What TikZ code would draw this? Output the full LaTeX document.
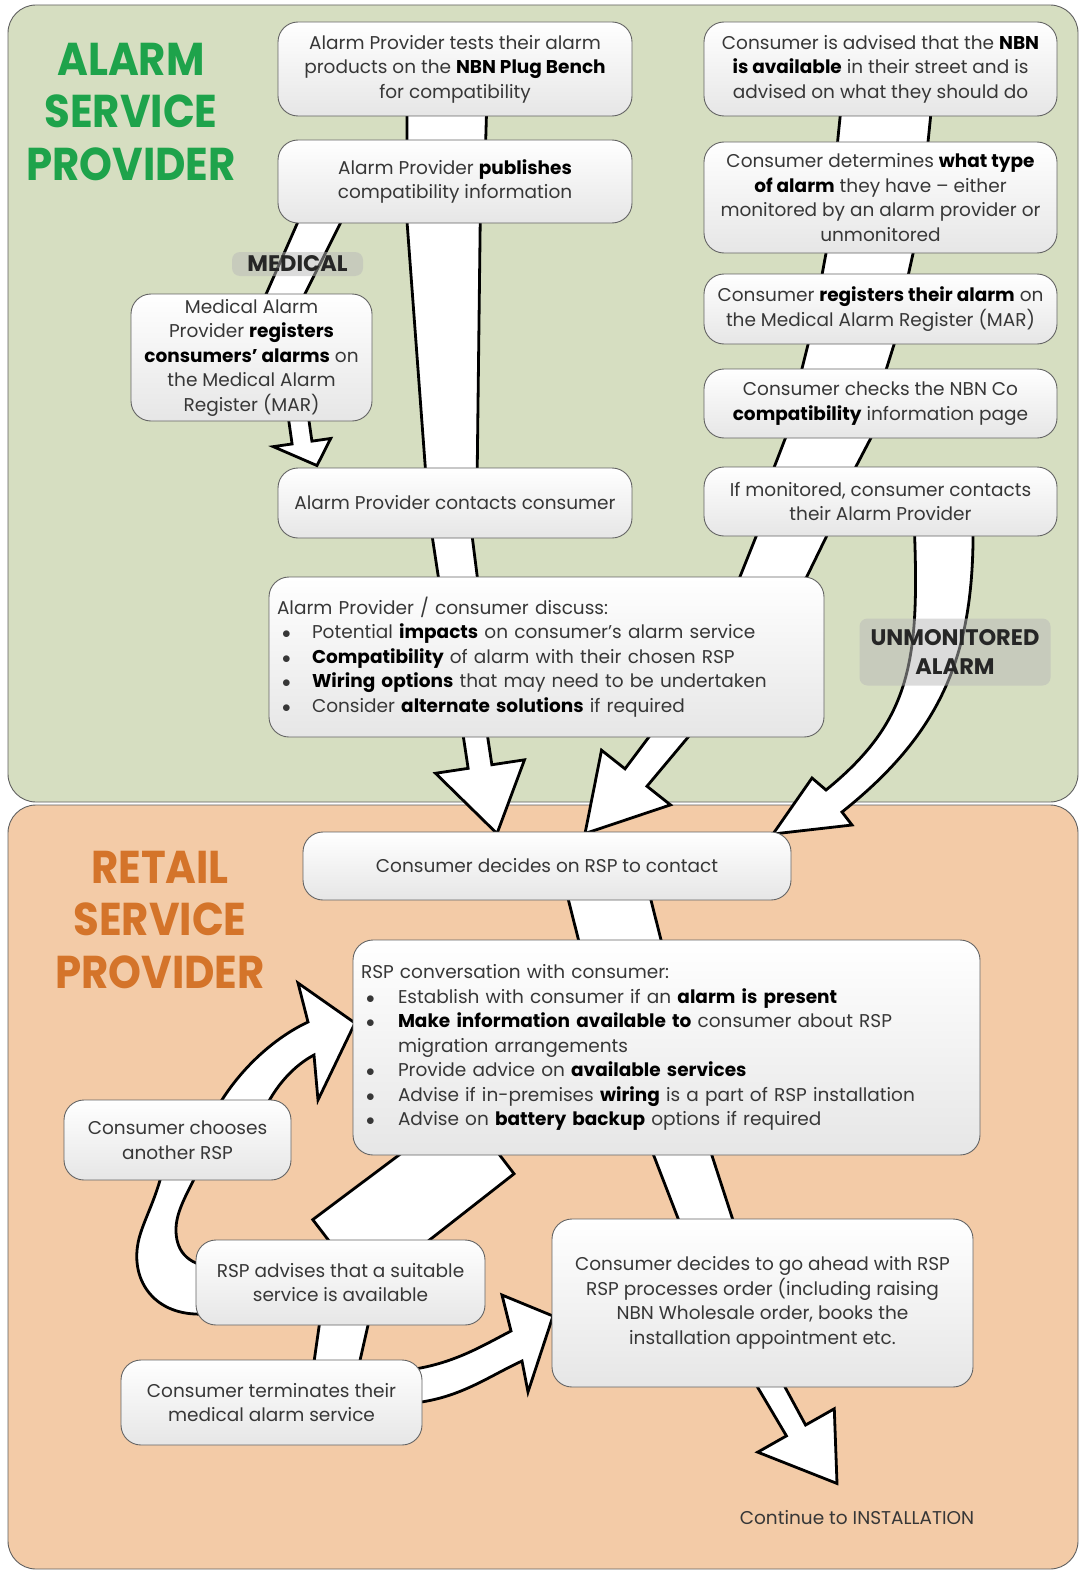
\documentclass[tikz,border=0pt]{standalone}
\usepackage{fontspec}
\setmainfont{Poppins}
\newfontfamily\titlefam[FakeStretch=0.91]{Poppins}
\usetikzlibrary{calc}
\pgfdeclarelayer{back}
\pgfdeclarelayer{bands}
\pgfsetlayers{back,bands,main}
\definecolor{greenbg}{RGB}{214,222,193}
\definecolor{orangebg}{RGB}{243,203,167}
\definecolor{titlegreen}{RGB}{30,163,75}
\definecolor{titleorange}{RGB}{212,116,42}
\definecolor{txt}{RGB}{55,55,55}
\definecolor{boxline}{RGB}{100,100,100}
\definecolor{boxbottom}{RGB}{230,230,230}
\newcommand\boxfont{\fontsize{18.5}{24.5}\selectfont}
\newcommand\titlefont{\titlefam\fontsize{46}{52.5}\selectfont\bfseries}
\newcommand\tagfont{\fontsize{22.5}{29}\selectfont\bfseries}
\newcommand\bld[1]{{\bfseries\color{black}#1}}
\newcommand\bulA{\makebox[35pt][l]{\hspace{5pt}$\bullet$}}
\newcommand\bulB{\makebox[37pt][l]{\hspace{5pt}$\bullet$}}
\newcommand\bandtaper[4]{\draw[band] ($(#1)!#3!90:(#2)$) -- ($(#2)!#4!-90:(#1)$) -- ($(#2)!#4!90:(#1)$) -- ($(#1)!#3!-90:(#2)$) -- cycle;}
\newcommand\bandarrow[6]{\draw[band] ($(#1)!#4!90:(#2)$) -- ($(#2)!#5!-90:(#1)$) -- ($(#2)!#6!-90:(#1)$) -- (#3) -- ($(#2)!#6!90:(#1)$) -- ($(#2)!#5!90:(#1)$) -- ($(#1)!#4!-90:(#2)$) -- cycle;}
\tikzset{
 panel/.style={draw=gray!75!black, line width=0.9pt, rounded corners=28pt},
 box/.style={draw=boxline, line width=0.9pt, rounded corners=20pt, top color=white, bottom color=boxbottom, text=txt, align=center, font=\boxfont, inner sep=0pt},
 band/.style={fill=white, draw=black, line width=2.8pt, line join=miter},
 ttl/.style={font=\titlefont, align=center, inner sep=0pt},
 tagbox/.style={font=\tagfont, align=center, fill=gray!55, fill opacity=0.5, text opacity=1, text=black!85, rounded corners=8pt, inner sep=0pt}
}
\begin{document}
\begin{tikzpicture}[x=1pt,y=-1pt]
\useasboundingbox (0,0) rectangle (1081,1573);
\begin{pgfonlayer}{back}
\fill[white] (0,0) rectangle (1081,1573);
\draw[panel, fill=greenbg] (8,5) rectangle (1078,802);
\draw[panel, fill=orangebg] (8,805) rectangle (1078,1569);
\end{pgfonlayer}

\node[ttl, text=titlegreen] (t1) at (131,112) {ALARM\\SERVICE\\PROVIDER};
\node[ttl, text=titleorange] (t2) at (160,920) {RETAIL\\SERVICE\\PROVIDER};

% left column
\node[box, minimum width=354pt, minimum height=94pt] (b1) at (455,69) {Alarm Provider tests their alarm\\products on the \bld{NBN Plug Bench}\\for compatibility};
\node[box, minimum width=354pt, minimum height=83pt] (b2) at (455,181.5) {Alarm Provider \bld{publishes}\\compatibility information};
\node[box, minimum width=241pt, minimum height=127pt] (b3) at (251.5,357.5) {Medical Alarm\\Provider \bld{registers}\\\bld{consumers' alarms} on\\the Medical Alarm\\Register (MAR)};
\node[box, minimum width=354pt, minimum height=70pt] (b4) at (455,503) {Alarm Provider contacts consumer};
\node[box, align=left, text width=539pt, inner xsep=8pt, minimum height=160pt] (b5) at (546.5,657) {Alarm Provider / consumer discuss:\\
\bulA Potential \bld{impacts} on consumer's alarm service\\
\bulA \bld{Compatibility} of alarm with their chosen RSP\\
\bulA \bld{Wiring options} that may need to be undertaken\\
\bulA Consider \bld{alternate solutions} if required};

% right column
\node[box, minimum width=353pt, minimum height=94pt] (b6) at (880.5,69) {Consumer is advised that the \bld{NBN}\\\bld{is available} in their street and is\\advised on what they should do};
\node[box, minimum width=353pt, minimum height=111pt] (b7) at (880.5,197.5) {Consumer determines \bld{what type}\\\bld{of alarm} they have -- either\\monitored by an alarm provider or\\unmonitored};
\node[box, minimum width=353pt, minimum height=70pt] (b8) at (880.5,309) {Consumer \bld{registers their alarm} on\\the Medical Alarm Register (MAR)};
\node[box, minimum width=353pt, minimum height=69pt] (b9) at (880.5,403.5) {Consumer checks the NBN Co\\\bld{compatibility} information page};
\node[box, minimum width=353pt, minimum height=69pt] (b10) at (880.5,501.5) {If monitored, consumer contacts\\their Alarm Provider};

% retail section
\node[box, minimum width=488pt, minimum height=68pt] (b11) at (547,866) {Consumer decides on RSP to contact};
\node[box, align=left, text width=611pt, inner xsep=8pt, minimum height=215pt] (b12) at (666.5,1047.5) {RSP conversation with consumer:\\
\bulB Establish with consumer if an \bld{alarm is present}\\
\bulB \bld{Make information available to} consumer about RSP\\
\hspace*{37pt}migration arrangements\\
\bulB Provide advice on \bld{available services}\\
\bulB Advise if in-premises \bld{wiring} is a part of RSP installation\\
\bulB Advise on \bld{battery backup} options if required};
\node[box, minimum width=227pt, minimum height=80pt] (b13) at (177.5,1140) {Consumer chooses\\another RSP};
\node[box, minimum width=289pt, minimum height=85pt] (b14) at (340.5,1282.5) {RSP advises that a suitable\\service is available};
\node[box, minimum width=421pt, minimum height=168pt] (b15) at (762.5,1303) {Consumer decides to go ahead with RSP\\RSP processes order (including raising\\NBN Wholesale order, books the\\installation appointment etc.};
\node[box, minimum width=301pt, minimum height=85pt] (b16) at (271.5,1402.5) {Consumer terminates their\\medical alarm service};
\node[font=\boxfont, text=txt, inner sep=0pt] (cont) at (857,1518) {Continue to INSTALLATION};

% band end points (relative to the boxes they join)
\coordinate (s1a) at ($(b1.south)+(-8,-21)$);
\coordinate (s1b) at ($(b2.north)+(-9,25)$);
\coordinate (s2a) at ($(b2.south)+(-12,-23)$);
\coordinate (s2b) at ($(b4.north)+(-3,22)$);
\coordinate (s3a) at ($(b4.south)+(-5,-18)$);
\coordinate (s3b) at ($(b5.north)+(-85.5,23)$);
\coordinate (s4a) at ($(b5.south)+(-76.5,-37)$);
\coordinate (s4b) at ($(b11.north)+(-67,-65)$);
\coordinate (s4t) at ($(b11.north)+(-50,2)$);
\coordinate (r1a) at ($(b6.south)+(6.5,-16)$);
\coordinate (r1b) at ($(b7.north)+(0.5,18)$);
\coordinate (r2a) at ($(b7.south)+(-7.5,-18)$);
\coordinate (r2b) at ($(b8.north)+(-18.5,16)$);
\coordinate (r3a) at ($(b8.south)+(-24.5,-19)$);
\coordinate (r3b) at ($(b9.north)+(-42.5,21)$);
\coordinate (r4a) at ($(b9.south)+(-45.5,-18)$);
\coordinate (r4b) at ($(b10.north)+(-74.5,18)$);
\coordinate (r5a) at ($(b10.south)+(-80.5,-21)$);
\coordinate (r5b) at ($(b5.north)+(198.5,63)$);
\coordinate (r6a) at ($(b5.south)+(158.5,-47)$);
\coordinate (r6b) at ($(b11.north)+(89,-54)$);
\coordinate (r6t) at ($(b11.north)+(38,2)$);
\coordinate (m1a) at ($(b2.south)+(-128,-18)$);
\coordinate (m1b) at ($(b3.north)+(25.5,18)$);
\coordinate (m2a) at ($(b3.south)+(44.5,-21)$);
\coordinate (m2b) at ($(b4.north)+(-153,-25)$);
\coordinate (m2t) at ($(b4.north)+(-138,-2)$);
\coordinate (p1a) at ($(b11.south)+(59,-15)$);
\coordinate (p1b) at ($(b12.north)+(-40.5,25)$);
\coordinate (p2a) at ($(b12.south)+(9.5,-20)$);
\coordinate (p2b) at ($(b15.north)+(-49.5,21)$);
\coordinate (p3a) at ($(b15.south)+(-17.5,-47)$);
\coordinate (p3b) at ($(b15.south)+(33.5,43)$);
\coordinate (p3t) at ($(b15.south)+(74.5,96)$);
\coordinate (q1a) at ($(b12.south)+(-178,-15)$);
\coordinate (q1b) at ($(b14.north)+(-1,15)$);
\coordinate (q2a) at ($(b14.south)+(7.5,-25)$);
\coordinate (q2b) at ($(b16.north)+(61,25)$);

\begin{pgfonlayer}{bands}
\bandtaper{s1a}{s1b}{40pt}{39pt}
\bandtaper{s2a}{s2b}{37.5pt}{25pt}
\bandtaper{s3a}{s3b}{20pt}{19pt}
\bandarrow{s4a}{s4b}{s4t}{12pt}{12pt}{45pt}
\bandtaper{r1a}{r1b}{45pt}{45pt}
\bandtaper{r2a}{r2b}{43pt}{42pt}
\bandtaper{r3a}{r3b}{42pt}{40pt}
\bandtaper{r4a}{r4b}{40pt}{36pt}
\bandtaper{r5a}{r5b}{33pt}{28pt}
\bandarrow{r6a}{r6b}{r6t}{17pt}{14pt}{44pt}
\bandtaper{m1a}{m1b}{20pt}{17pt}
\bandarrow{m2a}{m2b}{m2t}{10pt}{10pt}{29pt}
% unmonitored alarm
\draw[band] (914,520) .. controls (920,660) and (912,720) .. (826,790) -- (812,778) -- (773,834) -- (852,825) -- (842,812) .. controls (945,730) and (975,650) .. (973,520) -- cycle;
\bandtaper{p1a}{p1b}{40pt}{40pt}
\bandtaper{p2a}{p2b}{28pt}{25pt}
\bandarrow{p3a}{p3b}{p3t}{13pt}{11pt}{44pt}
\bandtaper{q1a}{q1b}{42pt}{44pt}
\bandtaper{q2a}{q2b}{25pt}{21.5pt}
% terminate -> go ahead
\draw[band] (400,1371) .. controls (450,1366) and (480,1347) .. (511,1331) -- (502,1295) -- (553,1316) -- (528,1392) -- (522,1361) .. controls (485,1378) and (455,1402) .. (400,1404) -- cycle;
% advises -> chooses another
\draw[band] (222,1315) -- (195,1314) .. controls (150,1312) and (128,1275) .. (140,1235) .. controls (146,1215) and (158,1195) .. (165,1160) -- (203,1160) .. controls (190,1190) and (175,1210) .. (176,1232) .. controls (177,1252) and (188,1267) .. (222,1268) -- cycle;
% chooses another -> conversation
\draw[band] (213,1115) .. controls (240,1065) and (280,1035) .. (308,1022) -- (298,983) -- (355,1023) -- (318,1100) -- (314,1055) .. controls (295,1065) and (275,1085) .. (262,1115) -- cycle;
\end{pgfonlayer}

\node[tagbox, minimum width=131pt, minimum height=24pt] (med) at (297.5,264) {MEDICAL};
\node[tagbox, minimum width=191pt, minimum height=67pt] (unm) at (955,652) {UNMONITORED\\ALARM};
\end{tikzpicture}
\end{document}
